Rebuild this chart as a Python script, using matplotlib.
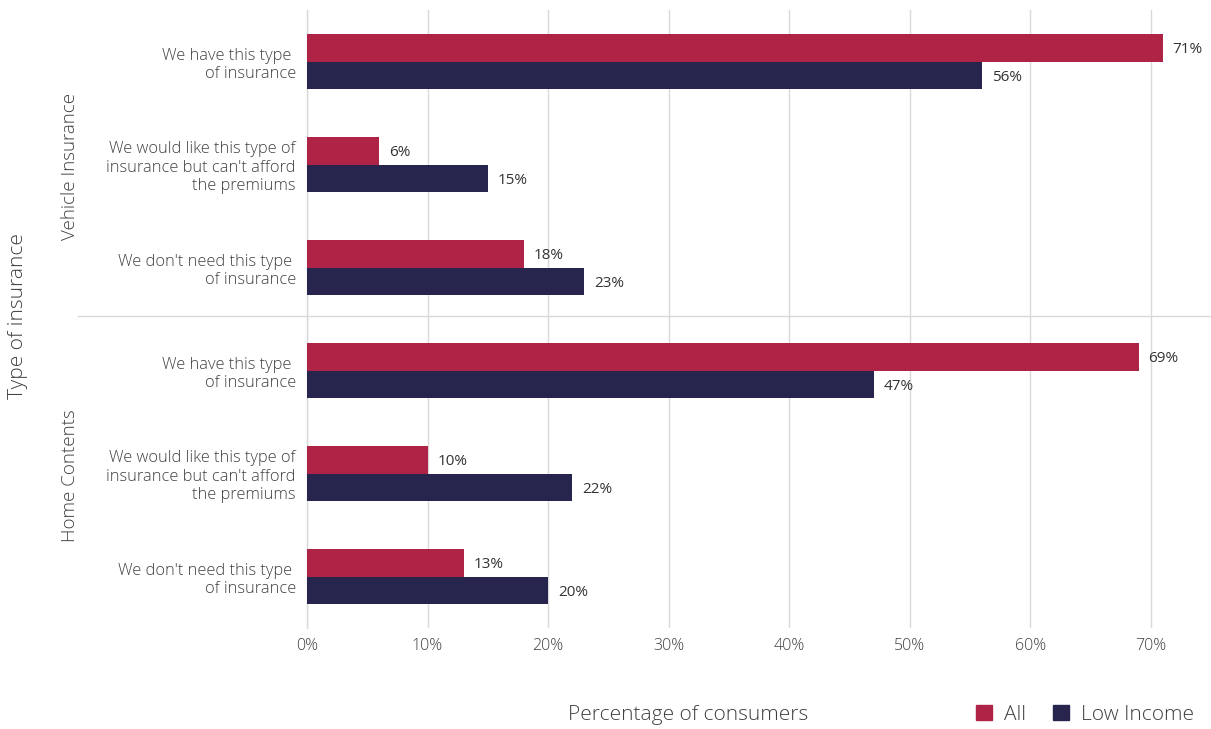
import matplotlib
matplotlib.use("Agg")
import matplotlib.pyplot as plt
import matplotlib.transforms as mtransforms
from matplotlib.patches import Patch

plt.rcParams['font.family'] = ['Open Sans', 'DejaVu Sans']

groups = ["Vehicle Insurance", "Home Contents"]
answers = [
    "We have this type \nof insurance",
    "We would like this type of\ninsurance but can't afford\nthe premiums",
    "We don't need this type \nof insurance",
]
series_names = ["All", "Low Income"]
all_vals = [71, 6, 18, 69, 10, 13]
low_vals = [56, 15, 23, 47, 22, 20]
x_ticks = [0, 10, 20, 30, 40, 50, 60, 70]

RED = "#AE2346"
NAVY = "#27244D"
TXT = "#404040"
GRID = "#d9d9d9"

fig = plt.figure(figsize=(12.11, 7.29), dpi=100)
ax = fig.add_axes([0.2535, 0.1385, 0.7457, 0.8477])

n = len(all_vals)
pos = list(range(n))
h = 0.265
ax.barh([p - h / 2 for p in pos], all_vals, height=h, color=RED, label=series_names[0], zorder=3)
ax.barh([p + h / 2 for p in pos], low_vals, height=h, color=NAVY, label=series_names[1], zorder=3)

for p, v in zip(pos, all_vals):
    ax.text(v + 0.8, p - h / 2 + 0.02, f"{v}%", va="center", ha="left", fontsize=11,
            color="#333333", fontweight="medium")
for p, v in zip(pos, low_vals):
    ax.text(v + 0.8, p + h / 2 + 0.02, f"{v}%", va="center", ha="left", fontsize=11,
            color="#333333", fontweight="medium")

ax.set_xlim(0, 74.9)
ax.set_ylim(n - 0.5, -0.5)
ax.set_xticks(x_ticks)
ax.set_xticklabels([f"{t}%" for t in x_ticks], fontsize=11.5, color=TXT, fontweight="light")
ax.set_yticks(pos)
ax.set_yticklabels(answers * len(groups), fontsize=11.8, color=TXT, fontweight="light",
                   ha="right", multialignment="right")
ax.tick_params(axis="both", length=0)
ax.tick_params(axis="x", pad=7)
ax.tick_params(axis="y", pad=8)

ax.grid(axis="x", color=GRID, linewidth=1, zorder=0)
for s in ["top", "right", "bottom"]:
    ax.spines[s].set_visible(False)
ax.spines["left"].set_color(GRID)
ax.spines["left"].set_linewidth(1)

# separator between the two insurance groups, extending into the label area
trans = mtransforms.blended_transform_factory(fig.transFigure, ax.transData)
ax.plot([78 / 1211, 1.0], [2.47, 2.47], transform=trans, color=GRID, linewidth=1,
        clip_on=False, zorder=1)

# group labels
for i, g in enumerate(groups):
    yc = i * 3 + 1.02
    ax.text(70 / 1211, yc, g, transform=trans, rotation=90, va="center", ha="center",
            fontsize=13.5, color=TXT, fontweight="light")

fig.text(18 / 1211, 1 - 316 / 729, "Type of insurance", rotation=90, va="center",
         ha="center", fontsize=15, color=TXT, fontweight="light")
fig.text(688 / 1211, 1 - 715 / 729, "Percentage of consumers", va="center", ha="center",
         fontsize=15, color=TXT, fontweight="light")

handles = [Patch(color=RED), Patch(color=NAVY)]
leg = fig.legend(handles, series_names, loc="center right",
                 bbox_to_anchor=(1213 / 1211, 1 - 715 / 729), ncol=2, frameon=False,
                 fontsize=15, handlelength=0.75, handleheight=0.75, handletextpad=0.6,
                 columnspacing=1.3)
for t in leg.get_texts():
    t.set_color(TXT)
    t.set_fontweight("light")

fig.savefig("out.png", dpi=100)
